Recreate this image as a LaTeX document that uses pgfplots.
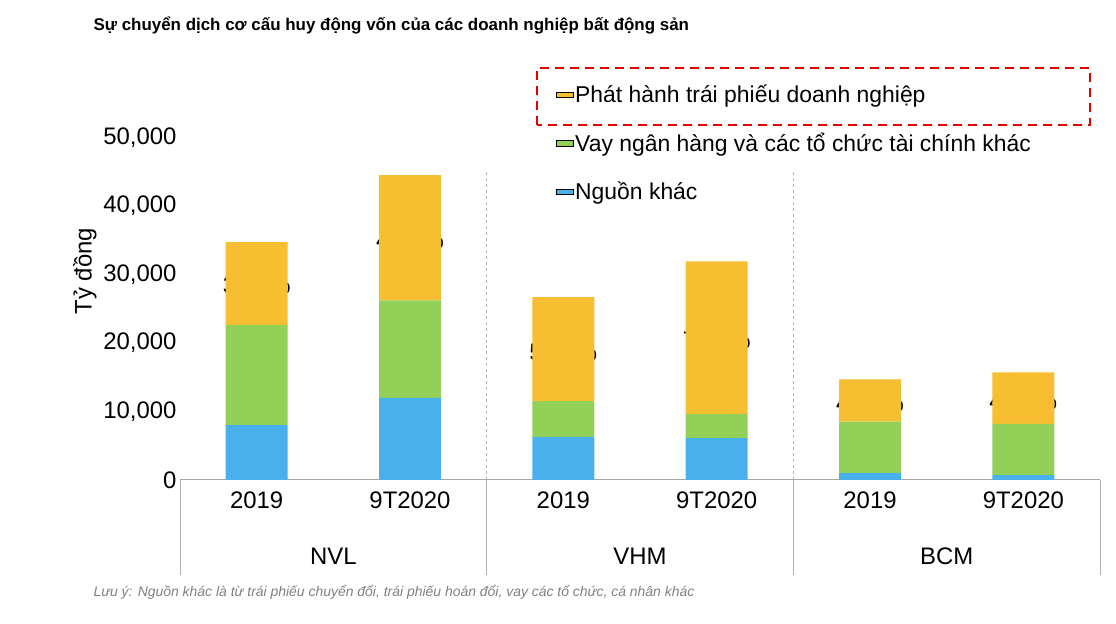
\documentclass[border=0pt]{standalone}
\usepackage{fontspec}
\setmainfont{Liberation Sans}
\usepackage{pgfplots}
\pgfplotsset{compat=1.18}
\definecolor{cy}{RGB}{246,190,48}
\definecolor{cg}{RGB}{146,208,88}
\definecolor{cb}{RGB}{74,176,236}
\begin{document}
\begin{tikzpicture}[x=1bp,y=1bp]
\path[use as bounding box] (0,0) rectangle (1116,624);
\node[anchor=west,font=\fontsize{17}{20}\selectfont\bfseries] at (90,599) {Sự chuyển dịch cơ cấu huy động vốn của các doanh nghiệp bất động sản};
\node[anchor=west,font=\fontsize{14}{16}\selectfont\itshape,text=gray] at (90,32) {Lưu ý: Nguồn khác là từ trái phiếu chuyển đổi, trái phiếu hoán đổi, vay các tổ chức, cá nhân khác};
\draw[red!90!black,line width=2.5bp,dash pattern=on 9bp off 6bp] (537,499) rectangle (1090,556);
\begin{axis}[at={(180bp,144bp)},anchor=south west,scale only axis,width=920bp,height=418bp,
 ybar stacked,bar width=62bp,ymin=0,ymax=61000,xmin=-0.5,xmax=5.5,clip=false,
 axis line style={draw=none},axis x line*=bottom,
 xtick=data,xticklabels={2019,9T2020,2019,9T2020,2019,9T2020},
 ytick={0,10000,...,50000},major tick length=0,
 /pgf/number format/assume math mode=true,
 scaled y ticks=false,yticklabel style={/pgf/number format/.cd,fixed,1000 sep={,}},
 ticklabel style={font=\fontsize{24}{26}\selectfont},
 xticklabel style={yshift=-8bp},
 ylabel={Tỷ đồng},ylabel style={font=\fontsize{24}{26}\selectfont},
 legend style={at={(0.405,0.955)},anchor=north west,draw=none,fill=none,font=\fontsize{23}{26}\selectfont,row sep=25bp},
 legend cell align=left,reverse legend,
 area legend,
]
\addplot[fill=cb,draw=none] coordinates {(0,8000)(1,12000)(2,6300)(3,6100)(4,1000)(5,700)};
\addplot[fill=cg,draw=none] coordinates {(0,14600)(1,14200)(2,5200)(3,3500)(4,7500)(5,7500)};
\addplot[fill=cy,draw=none] coordinates {(0,12100)(1,18300)(2,15200)(3,22300)(4,6200)(5,7500)};
\legend{Nguồn khác,Vay ngân hàng và các tổ chức tài chính khác,Phát hành trái phiếu doanh nghiệp}
\draw[gray!70,line width=1bp] (axis cs:-0.5,0) -- (axis cs:5.5,0);
\draw[gray!60,dashed,line width=1bp] (axis cs:1.5,0) -- (axis cs:1.5,45200);
\draw[gray!60,dashed,line width=1bp] (axis cs:3.5,0) -- (axis cs:3.5,45200);
\draw[gray!60,line width=1bp] (axis cs:1.5,0) -- (axis cs:1.5,-13850);
\draw[gray!60,line width=1bp] (axis cs:3.5,0) -- (axis cs:3.5,-13850);
\draw[gray!60,line width=1bp] (axis cs:-0.5,0) -- (axis cs:-0.5,-13850);
\draw[gray!60,line width=1bp] (axis cs:5.5,0) -- (axis cs:5.5,-13850);
\node[font=\fontsize{24}{26}\selectfont] at (axis cs:0,28400) {35.0\%};
\node[font=\fontsize{24}{26}\selectfont] at (axis cs:1,35000) {41.2\%};
\node[font=\fontsize{24}{26}\selectfont] at (axis cs:2,18700) {56.9\%};
\node[font=\fontsize{24}{26}\selectfont] at (axis cs:3,20400) {70.1\%};
\node[font=\fontsize{24}{26}\selectfont] at (axis cs:4,11200) {42.8\%};
\node[font=\fontsize{24}{26}\selectfont] at (axis cs:5,11500) {48.1\%};
\node[font=\fontsize{24}{26}\selectfont] at (axis cs:0.5,-11200) {NVL};
\node[font=\fontsize{24}{26}\selectfont] at (axis cs:2.5,-11200) {VHM};
\node[font=\fontsize{24}{26}\selectfont] at (axis cs:4.5,-11200) {BCM};
\end{axis}
\end{tikzpicture}
\end{document}
